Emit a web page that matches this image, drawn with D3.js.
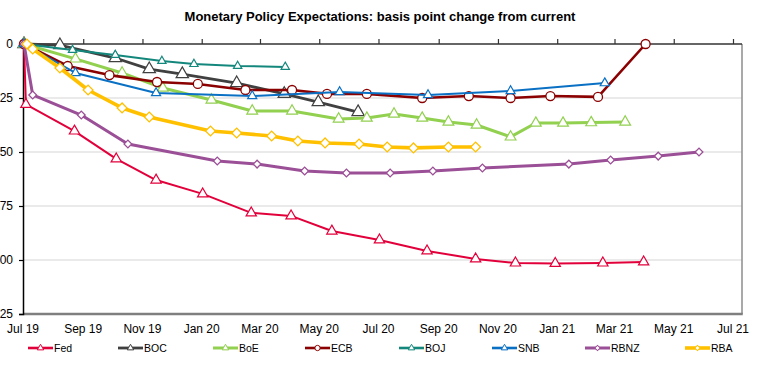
<!DOCTYPE html>
<html>
<head>
<meta charset="utf-8">
<script src="https://cdn.jsdelivr.net/npm/d3@7"></script>
<style>
html,body{margin:0;padding:0;background:#fff;}
svg{display:block;font-family:"Liberation Sans",Arial,sans-serif;}
</style>
</head>
<body>
<svg id="chart" width="762" height="366"></svg>
<script>
// ---------- data ----------
const title = "Monetary Policy Expectations: basis point change from current";
const yTicks = [0, -25, -50, -75, -100, -125];
const yTickLabels = ["0", "25", "50", "75", "100", "125"];
const xTickDates = ["2019-07-01","2019-09-01","2019-11-01","2020-01-01","2020-03-01","2020-05-01","2020-07-01","2020-09-01","2020-11-01","2021-01-01","2021-03-01","2021-05-01","2021-07-01"];
const xTickLabels = ["Jul 19","Sep 19","Nov 19","Jan 20","Mar 20","May 20","Jul 20","Sep 20","Nov 20","Jan 21","Mar 21","May 21","Jul 21"];
const seriesNames = ["Fed","BOC","BoE","ECB","BOJ","SNB","RBNZ","RBA"];

const fedDates = ["2019-07-02","2019-07-04","2019-08-23","2019-10-05","2019-11-15","2020-01-02","2020-02-21","2020-04-02","2020-05-14","2020-07-02","2020-08-20","2020-10-09","2020-11-19","2020-12-30","2021-02-17","2021-03-31"];
const fedValues = [0,-28,-40.3,-53.2,-63,-69.4,-78.2,-79.6,-86.6,-90.7,-95.8,-99.5,-101.4,-101.6,-101.4,-100.9];

const bocDates = ["2019-07-02","2019-08-08","2019-10-04","2019-11-08","2019-12-12","2020-02-06","2020-03-26","2020-04-30","2020-06-10"];
const bocValues = [0,-0.5,-6.5,-11.6,-13.9,-18.1,-23.1,-26.9,-31.5];

const boeDates = ["2019-07-02","2019-08-24","2019-10-11","2019-11-22","2020-01-11","2020-02-22","2020-04-03","2020-05-21","2020-06-19","2020-07-17","2020-08-15","2020-09-11","2020-10-10","2020-11-14","2020-12-10","2021-01-07","2021-02-05","2021-03-12"];
const boeValues = [0,-6.9,-13.4,-20.4,-25.9,-31,-31,-34.7,-34.3,-32.4,-34.3,-36.1,-37.5,-43,-36.6,-36.6,-36.4,-36.1];

const ecbDates = ["2019-07-02","2019-08-16","2019-09-28","2019-11-16","2019-12-28","2020-02-15","2020-04-03","2020-05-09","2020-06-19","2020-08-15","2020-10-02","2020-11-14","2020-12-25","2021-02-12","2021-04-02"];
const ecbValues = [0,-10.2,-14.4,-17.6,-18.5,-21.3,-21.3,-23.1,-23.1,-25,-24.1,-25,-24.1,-24.5,0];

const bojDates = ["2019-07-02","2019-08-21","2019-10-04","2019-11-21","2019-12-24","2020-02-07","2020-03-27"];
const bojValues = [0,-2.8,-5.1,-7.9,-9.3,-10.2,-10.6];

const snbDates = ["2019-07-02","2019-08-24","2019-11-15","2020-02-22","2020-05-22","2020-08-21","2020-11-14","2021-02-19"];
const snbValues = [0,-13.4,-22.7,-24.1,-22.2,-23.6,-21.8,-18.1];

const rbnzDates = ["2019-07-02","2019-07-11","2019-08-30","2019-10-17","2020-01-17","2020-02-27","2020-04-16","2020-05-29","2020-07-13","2020-08-26","2020-10-16","2021-01-13","2021-02-25","2021-04-15","2021-05-27"];
const rbnzValues = [0,-23.6,-32.9,-46.3,-54.2,-55.6,-58.8,-59.7,-59.7,-58.8,-57.4,-55.6,-53.7,-51.9,-50];

const rbaDates = ["2019-07-05","2019-07-11","2019-08-08","2019-09-06","2019-10-11","2019-11-08","2020-01-10","2020-02-06","2020-03-13","2020-04-09","2020-05-07","2020-06-11","2020-07-10","2020-08-06","2020-09-11","2020-10-09"];
const rbaValues = [0,-2.3,-11.1,-21.3,-29.6,-33.8,-40.3,-41.2,-42.6,-44.9,-45.8,-46.3,-47.7,-48.1,-47.7,-47.7];

// ---------- styles (not data) ----------
const styles = {
  Fed:  {color:"#e2003b", width:2,   marker:"triangle", size:46, legendMarker:18},
  BOC:  {color:"#404040", width:2.8, marker:"triangle", size:66, legendMarker:18},
  BoE:  {color:"#92d050", width:3,   marker:"triangle", size:50, legendMarker:18},
  ECB:  {color:"#8b0000", width:2.6, marker:"circle",   size:64, legendMarker:22},
  BOJ:  {color:"#14877c", width:2,   marker:"triangle", size:30, legendMarker:18},
  SNB:  {color:"#0a70c4", width:2,   marker:"triangle", size:36, legendMarker:18},
  RBNZ: {color:"#9b4f96", width:3,   marker:"diamond",  size:30, legendMarker:14},
  RBA:  {color:"#ffc000", width:3.6, marker:"diamond",  size:48, legendMarker:14}
};

const parse = d3.utcParse("%Y-%m-%d");
const series = [
  {name:"Fed",  dates:fedDates,  values:fedValues},
  {name:"BOC",  dates:bocDates,  values:bocValues},
  {name:"BoE",  dates:boeDates,  values:boeValues},
  {name:"ECB",  dates:ecbDates,  values:ecbValues},
  {name:"BOJ",  dates:bojDates,  values:bojValues},
  {name:"SNB",  dates:snbDates,  values:snbValues},
  {name:"RBNZ", dates:rbnzDates, values:rbnzValues},
  {name:"RBA",  dates:rbaDates,  values:rbaValues}
].map(s => ({name:s.name, pts:s.dates.map((d,i)=>({date:parse(d), value:s.values[i]}))}));

// ---------- layout ----------
const svg = d3.select("#chart");
const plotL = 23, plotR = 742, plotT = 44, plotB = 314;

const x = d3.scaleUtc()
  .domain([parse(xTickDates[0]), parse(xTickDates[xTickDates.length-1])])
  .range([plotL, 733]);
const y = d3.scaleLinear().domain([0, -125]).range([plotT, plotB]);

// title
svg.append("text")
  .attr("x", 380).attr("y", 21)
  .attr("text-anchor","middle")
  .attr("font-size", 13).attr("font-weight","bold")
  .attr("fill","#000")
  .text(title);

// gridlines
svg.append("g").selectAll("line")
  .data(yTicks.filter(v => v !== 0 && v !== -125))
  .join("line")
  .attr("x1", plotL).attr("x2", plotR)
  .attr("y1", d => y(d)).attr("y2", d => y(d))
  .attr("stroke","#e3e3e3").attr("stroke-width",1.5);

// frame: right & bottom
svg.append("line").attr("x1",plotR).attr("x2",plotR).attr("y1",plotT).attr("y2",plotB)
  .attr("stroke","#8c8c8c").attr("stroke-width",1.5);
svg.append("line").attr("x1",plotL).attr("x2",plotR+0.75).attr("y1",plotB).attr("y2",plotB)
  .attr("stroke","#7f7f7f").attr("stroke-width",2.5);

// y axis
const yAxis = d3.axisLeft(y).tickValues(yTicks).tickSize(4).tickPadding(6)
  .tickFormat((d,i) => yTickLabels[i]);
const gy = svg.append("g").attr("transform",`translate(${plotL},0)`).call(yAxis);
gy.select(".domain").attr("stroke","#000").attr("stroke-width",1.5);
gy.selectAll(".tick line").attr("stroke","#000").attr("stroke-width",1.2);
gy.selectAll(".tick text").attr("font-size",12).attr("fill","#000")
  .attr("font-family",'"Liberation Sans",Arial,sans-serif');

// x axis at y=0 (top) with ticks pointing down
const xAxis = d3.axisBottom(x).tickValues(xTickDates.map(parse)).tickSize(-5).tickFormat("");
const gx = svg.append("g").attr("transform",`translate(0,${plotT})`).call(xAxis);
gx.select(".domain").attr("d", `M${plotL},0H${plotR}`).attr("stroke","#333").attr("stroke-width",1.5);
gx.selectAll(".tick line").attr("stroke","#333").attr("stroke-width",1.2);

// x labels below plot
svg.append("g").selectAll("text")
  .data(xTickDates.map((d,i)=>({d:parse(d), label:xTickLabels[i]})))
  .join("text")
  .attr("x", d => x(d.d)).attr("y", 333)
  .attr("text-anchor","middle").attr("font-size",12).attr("fill","#000")
  .text(d => d.label);

// symbol helper
function symbolPath(kind, size){
  if (kind === "triangle") return d3.symbol(d3.symbolTriangle, size)();
  if (kind === "circle") return d3.symbol(d3.symbolCircle, size)();
  return d3.symbol(d3.symbolSquare, size)();
}

const line = d3.line().x(d => x(d.date)).y(d => y(d.value));

// series
series.forEach(s => {
  const st = styles[s.name];
  const g = svg.append("g");
  g.append("path").datum(s.pts)
    .attr("d", line).attr("fill","none")
    .attr("stroke", st.color).attr("stroke-width", st.width)
    .attr("stroke-linejoin","round");
  g.selectAll("path.m").data(s.pts).join("path").attr("class","m")
    .attr("d", symbolPath(st.marker, st.size))
    .attr("transform", d => `translate(${x(d.date)},${y(d.value)})` + (st.marker==="diamond" ? " rotate(45)" : ""))
    .attr("fill","#fff").attr("stroke", st.color).attr("stroke-width", st.marker==="triangle"?1.2:1.3);
});

// legend
const legendX = [28,118,213,305,399,492,585,685];
const lg = svg.append("g");
seriesNames.forEach((name,i) => {
  const st = styles[name];
  const lx = legendX[i], ly = 348;
  lg.append("line").attr("x1",lx).attr("x2",lx+25).attr("y1",ly).attr("y2",ly)
    .attr("stroke",st.color).attr("stroke-width",Math.max(st.width,2.6));
  lg.append("path").attr("d", symbolPath(st.marker, st.legendMarker))
    .attr("transform",`translate(${lx+12.5},${ly})` + (st.marker==="diamond" ? " rotate(45)" : ""))
    .attr("fill","#fff").attr("stroke",st.color).attr("stroke-width",1);
  lg.append("text").attr("x",lx+26).attr("y",ly+3.6)
    .attr("font-size",10.5).attr("fill","#000").text(name);
});
</script>
</body>
</html>
